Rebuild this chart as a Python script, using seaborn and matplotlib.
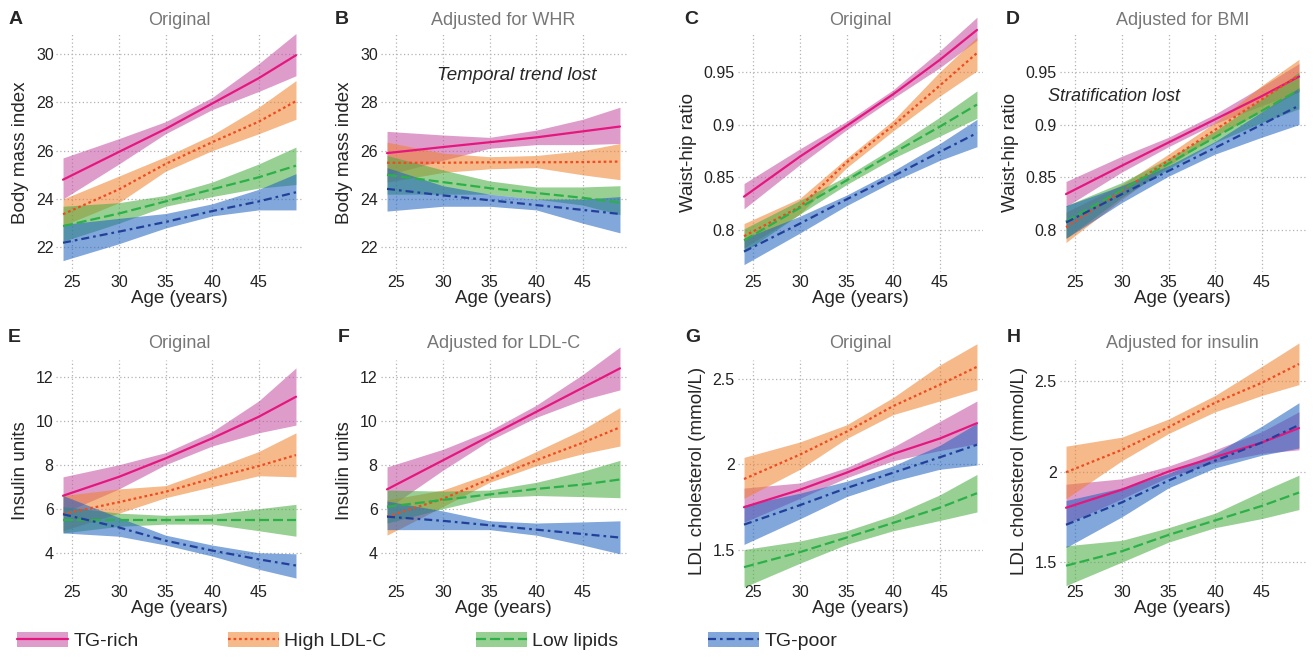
import numpy as np
import pandas as pd
import matplotlib
matplotlib.use("Agg")
import matplotlib.pyplot as plt
from matplotlib.patches import Patch
from matplotlib.lines import Line2D
from matplotlib.legend_handler import HandlerTuple
import seaborn as sns

# ---- data ----
AGES = [24, 30, 35, 40, 45, 49]
GROUPS = ["TG-rich", "High LDL-C", "Low lipids", "TG-poor"]

# A: body mass index, original
A_MID = {"TG-rich": [24.8, 25.95, 26.9, 27.95, 29.0, 29.95], "High LDL-C": [23.37, 24.4, 25.45, 26.35, 27.2, 28.05],
         "Low lipids": [22.88, 23.4, 23.9, 24.4, 24.9, 25.38], "TG-poor": [22.19, 22.65, 23.05, 23.5, 23.9, 24.28]}
A_LO = {"TG-rich": [24.0, 25.45, 26.7, 27.7, 28.45, 29.1], "High LDL-C": [22.9, 23.85, 25.15, 26.0, 26.7, 27.3],
        "Low lipids": [22.25, 23.0, 23.7, 24.1, 24.45, 24.6], "TG-poor": [21.45, 22.15, 22.8, 23.3, 23.55, 23.55]}
A_HI = {"TG-rich": [25.7, 26.5, 27.2, 28.2, 29.6, 30.85], "High LDL-C": [24.0, 24.95, 25.75, 26.65, 27.8, 28.9],
        "Low lipids": [23.7, 23.85, 24.15, 24.7, 25.45, 26.15], "TG-poor": [22.95, 23.2, 23.4, 23.8, 24.4, 25.05]}

# B: body mass index, adjusted for WHR
B_MID = {"TG-rich": [25.9, 26.15, 26.35, 26.55, 26.8, 27.0], "High LDL-C": [25.5, 25.5, 25.52, 25.52, 25.53, 25.55],
         "Low lipids": [25.0, 24.7, 24.45, 24.25, 24.05, 23.85], "TG-poor": [24.42, 24.15, 23.95, 23.75, 23.55, 23.38]}
B_LO = {"TG-rich": [25.0, 25.6, 26.1, 26.25, 26.25, 26.3], "High LDL-C": [24.7, 25.1, 25.25, 25.3, 25.0, 24.8],
        "Low lipids": [24.2, 24.2, 24.2, 24.0, 23.75, 23.35], "TG-poor": [23.5, 23.7, 23.7, 23.55, 23.0, 22.6]}
B_HI = {"TG-rich": [26.8, 26.65, 26.55, 26.85, 27.3, 27.8], "High LDL-C": [26.35, 25.9, 25.75, 25.8, 26.0, 26.3],
        "Low lipids": [25.8, 25.2, 24.75, 24.5, 24.5, 24.55], "TG-poor": [25.3, 24.55, 24.2, 24.0, 24.0, 24.1]}

# C: waist-hip ratio, original
C_MID = {"TG-rich": [0.8316, 0.8696, 0.8987, 0.9288, 0.9614, 0.9899], "High LDL-C": [0.794, 0.822, 0.864, 0.899, 0.937, 0.968],
         "Low lipids": [0.790, 0.821, 0.847, 0.873, 0.898, 0.919], "TG-poor": [0.7794, 0.806, 0.829, 0.851, 0.874, 0.892]}
C_LO = {"TG-rich": [0.820, 0.862, 0.895, 0.925, 0.954, 0.980], "High LDL-C": [0.783, 0.815, 0.859, 0.894, 0.927, 0.951],
        "Low lipids": [0.779, 0.815, 0.843, 0.868, 0.889, 0.906], "TG-poor": [0.767, 0.797, 0.823, 0.846, 0.866, 0.879]}
C_HI = {"TG-rich": [0.844, 0.877, 0.903, 0.933, 0.970, 1.002], "High LDL-C": [0.806, 0.830, 0.868, 0.904, 0.950, 0.983],
        "Low lipids": [0.801, 0.828, 0.851, 0.878, 0.907, 0.932], "TG-poor": [0.792, 0.813, 0.833, 0.856, 0.882, 0.905]}

# D: waist-hip ratio, adjusted for BMI
D_MID = {"TG-rich": [0.834, 0.861, 0.883, 0.905, 0.927, 0.9456], "High LDL-C": [0.8025, 0.837, 0.866, 0.895, 0.924, 0.947],
         "Low lipids": [0.808, 0.838, 0.863, 0.888, 0.913, 0.933], "TG-poor": [0.807, 0.834, 0.856, 0.878, 0.900, 0.918]}
D_LO = {"TG-rich": [0.822, 0.855, 0.879, 0.901, 0.918, 0.931], "High LDL-C": [0.788, 0.829, 0.861, 0.889, 0.912, 0.932],
        "Low lipids": [0.792, 0.831, 0.858, 0.883, 0.902, 0.915], "TG-poor": [0.792, 0.826, 0.851, 0.872, 0.888, 0.900]}
D_HI = {"TG-rich": [0.846, 0.870, 0.888, 0.910, 0.936, 0.958], "High LDL-C": [0.817, 0.843, 0.872, 0.902, 0.937, 0.962],
        "Low lipids": [0.823, 0.845, 0.868, 0.894, 0.924, 0.950], "TG-poor": [0.823, 0.842, 0.861, 0.884, 0.912, 0.935]}

# E: insulin, original
E_MID = {"TG-rich": [6.59, 7.45, 8.29, 9.2, 10.18, 11.09], "High LDL-C": [5.76, 6.3, 6.77, 7.38, 7.94, 8.44],
         "Low lipids": [5.48, 5.48, 5.48, 5.48, 5.48, 5.48], "TG-poor": [5.75, 5.15, 4.55, 4.1, 3.7, 3.42]}
E_LO = {"TG-rich": [5.8, 6.9, 8.0, 8.85, 9.45, 9.8], "High LDL-C": [5.0, 5.8, 6.5, 7.0, 7.5, 7.45],
        "Low lipids": [4.9, 5.2, 5.3, 5.3, 5.0, 4.75], "TG-poor": [4.9, 4.75, 4.35, 3.85, 3.25, 2.85]}
E_HI = {"TG-rich": [7.45, 8.0, 8.55, 9.5, 10.9, 12.4], "High LDL-C": [6.6, 6.9, 7.05, 7.8, 8.6, 9.45],
        "Low lipids": [6.1, 5.8, 5.7, 5.75, 6.0, 6.2], "TG-poor": [6.6, 5.6, 4.8, 4.35, 4.0, 3.95]}

# F: insulin, adjusted for LDL-C
F_MID = {"TG-rich": [6.88, 8.2, 9.3, 10.4, 11.5, 12.38], "High LDL-C": [5.64, 6.45, 7.35, 8.2, 9.0, 9.7],
         "Low lipids": [6.09, 6.4, 6.65, 6.9, 7.1, 7.33], "TG-poor": [5.64, 5.45, 5.25, 5.05, 4.85, 4.69]}
F_LO = {"TG-rich": [6.0, 7.75, 9.1, 10.15, 10.95, 11.4], "High LDL-C": [4.8, 6.1, 7.2, 7.95, 8.5, 8.85],
        "Low lipids": [5.35, 6.0, 6.5, 6.6, 6.55, 6.5], "TG-poor": [5.05, 5.05, 5.05, 4.8, 4.35, 3.95]}
F_HI = {"TG-rich": [7.9, 8.7, 9.55, 10.7, 12.1, 13.35], "High LDL-C": [6.4, 6.85, 7.6, 8.6, 9.6, 10.6],
        "Low lipids": [6.85, 6.8, 6.85, 7.2, 7.7, 8.2], "TG-poor": [6.35, 5.9, 5.45, 5.35, 5.4, 5.45]}

# G: LDL cholesterol, original
G_MID = {"TG-rich": [1.748, 1.85, 1.95, 2.06, 2.15, 2.24], "High LDL-C": [1.913, 2.056, 2.19, 2.34, 2.465, 2.57],
         "Low lipids": [1.397, 1.485, 1.57, 1.656, 1.745, 1.83], "TG-poor": [1.646, 1.76, 1.86, 1.95, 2.04, 2.114]}
G_LO = {"TG-rich": [1.66, 1.80, 1.92, 2.02, 2.08, 2.12], "High LDL-C": [1.80, 1.97, 2.15, 2.29, 2.37, 2.435],
        "Low lipids": [1.28, 1.42, 1.53, 1.61, 1.67, 1.72], "TG-poor": [1.53, 1.68, 1.81, 1.90, 1.97, 1.995]}
G_HI = {"TG-rich": [1.86, 1.89, 1.98, 2.10, 2.25, 2.37], "High LDL-C": [2.04, 2.13, 2.23, 2.39, 2.58, 2.705],
        "Low lipids": [1.50, 1.55, 1.61, 1.70, 1.82, 1.94], "TG-poor": [1.76, 1.83, 1.90, 1.99, 2.11, 2.24]}

# H: LDL cholesterol, adjusted for insulin
H_MID = {"TG-rich": [1.80, 1.90, 2.0, 2.08, 2.16, 2.24], "High LDL-C": [1.996, 2.12, 2.245, 2.38, 2.49, 2.594],
         "Low lipids": [1.48, 1.56, 1.65, 1.73, 1.81, 1.884], "TG-poor": [1.706, 1.83, 1.95, 2.06, 2.16, 2.257]}
H_LO = {"TG-rich": [1.71, 1.85, 1.97, 2.05, 2.10, 2.12], "High LDL-C": [1.85, 2.06, 2.21, 2.33, 2.42, 2.48],
        "Low lipids": [1.37, 1.50, 1.61, 1.69, 1.74, 1.79], "TG-poor": [1.58, 1.75, 1.91, 2.02, 2.09, 2.13]}
H_HI = {"TG-rich": [1.93, 1.96, 2.03, 2.12, 2.22, 2.33], "High LDL-C": [2.14, 2.19, 2.29, 2.42, 2.58, 2.71],
        "Low lipids": [1.59, 1.62, 1.69, 1.77, 1.89, 1.98], "TG-poor": [1.84, 1.91, 1.99, 2.10, 2.25, 2.38]}

X_TICKS = [25, 30, 35, 40, 45]
BMI_TICKS = [22, 24, 26, 28, 30]
WHR_TICKS = [0.8, 0.85, 0.9, 0.95]
INS_TICKS = [4, 6, 8, 10, 12]
LDL_TICKS = [1.5, 2, 2.5]

# ---- style ----
LINE_COLORS = {"TG-rich": "#E5177E", "High LDL-C": "#F04A20", "Low lipids": "#2DB04A", "TG-poor": "#22409A"}
FILL_COLORS = {"TG-rich": "#C54FA3", "High LDL-C": "#EE822F", "Low lipids": "#48AC3F", "TG-poor": "#1F62C0"}
DASHES = {"TG-rich": "", "High LDL-C": (1.2, 1.3), "Low lipids": (4.5, 1.8), "TG-poor": (3.6, 1.8, 1.2, 1.8)}
FILL_ALPHA = 0.56

sns.set_theme(style="white")
plt.rcParams["font.family"] = ["Liberation Sans", "DejaVu Sans"]

W, H = 1315, 657
fig = plt.figure(figsize=(W / 100, H / 100), dpi=100)


def add_axes(left, top, bottom, width=246):
    return fig.add_axes([left / W, 1 - bottom / H, width / W, (bottom - top) / H])


def draw_panel(ax, mid, lo, hi, title, ylabel, yticks, ylim, ytlabels=None, title_pad=6):
    rows = []
    for g in GROUPS:
        for a, m, l, h in zip(AGES, mid[g], lo[g], hi[g]):
            rows.append({"age": a, "group": g, "mid": m, "lo": l, "hi": h})
    df = pd.DataFrame(rows)
    for g in GROUPS:
        sub = df[df.group == g]
        ax.fill_between(sub.age, sub.lo, sub.hi, color=FILL_COLORS[g], alpha=FILL_ALPHA,
                        linewidth=0, clip_on=False, zorder=2)
    sns.lineplot(data=df, x="age", y="mid", hue="group", style="group", hue_order=GROUPS,
                 style_order=GROUPS, palette=LINE_COLORS, dashes=DASHES, linewidth=1.6,
                 legend=False, ax=ax, clip_on=False, zorder=3)
    ax.set_xlim(23.3, 49.7)
    ax.set_ylim(*ylim)
    ax.set_xticks(X_TICKS)
    ax.set_yticks(yticks)
    if ytlabels is not None:
        ax.set_yticklabels(ytlabels)
    ax.grid(True, color="#b3b3b3", linestyle=(0, (1, 2)), linewidth=0.9)
    ax.set_axisbelow(True)
    for s in ax.spines.values():
        s.set_visible(False)
    ax.tick_params(length=0, pad=2, labelsize=11.5, colors="#222222")
    ax.set_xlabel("Age (years)", fontsize=13.5, labelpad=0.5)
    ax.set_ylabel(ylabel, fontsize=13.5, labelpad=5)
    ax.set_title(title, fontsize=13, color="#777777", pad=title_pad)


LEFTS = [56.5, 380.5, 737.5, 1059.5]
R1 = (33, 272)
R2 = (360, 582)

axA = add_axes(LEFTS[0], *R1)
draw_panel(axA, A_MID, A_LO, A_HI, "Original", "Body mass index", BMI_TICKS, (20.98, 30.87))
axB = add_axes(LEFTS[1], *R1)
draw_panel(axB, B_MID, B_LO, B_HI, "Adjusted for WHR", "Body mass index", BMI_TICKS, (20.98, 30.87))
axB.text(37.9, 29.1, "Temporal trend lost", style="italic", fontsize=13.5, ha="center", va="center")

whr_labels = ["0.8", "0.85", "0.9", "0.95"]
axC = add_axes(LEFTS[2], *R1)
draw_panel(axC, C_MID, C_LO, C_HI, "Original", "Waist-hip ratio", WHR_TICKS, (0.760, 0.987), whr_labels)
axD = add_axes(LEFTS[3], *R1)
draw_panel(axD, D_MID, D_LO, D_HI, "Adjusted for BMI", "Waist-hip ratio", WHR_TICKS, (0.760, 0.987), whr_labels)
axD.text(22.1, 0.927, "Stratification lost", style="italic", fontsize=13, ha="left", va="center")

axE = add_axes(LEFTS[0], *R2)
draw_panel(axE, E_MID, E_LO, E_HI, "Original", "Insulin units", INS_TICKS, (2.67, 12.76), title_pad=9)
axF = add_axes(LEFTS[1], *R2)
draw_panel(axF, F_MID, F_LO, F_HI, "Adjusted for LDL-C", "Insulin units", INS_TICKS, (2.67, 12.76), title_pad=9)

ldl_labels = ["1.5", "2", "2.5"]
axG = add_axes(LEFTS[2], *R2)
draw_panel(axG, G_MID, G_LO, G_HI, "Original", "LDL cholesterol (mmol/L)", LDL_TICKS, (1.31, 2.61), ldl_labels, title_pad=9)
axH = add_axes(LEFTS[3], *R2)
draw_panel(axH, H_MID, H_LO, H_HI, "Adjusted for insulin", "LDL cholesterol (mmol/L)", LDL_TICKS, (1.39, 2.616), ldl_labels, title_pad=9)

# panel letters
for letter, x, y in [("A", 9, 20), ("B", 335, 20), ("C", 684, 20), ("D", 1006, 20),
                     ("E", 8, 338), ("F", 338, 338), ("G", 685, 338), ("H", 1007, 338)]:
    fig.text(x / W, 1 - y / H, letter, fontsize=14, fontweight="bold", ha="left", va="center")

# legend: shaded patch with the line drawn across it
handles = []
for g in GROUPS:
    p = Patch(facecolor=FILL_COLORS[g], alpha=FILL_ALPHA, edgecolor="none")
    if DASHES[g]:
        ln = Line2D([], [], color=LINE_COLORS[g], linewidth=1.6, dashes=DASHES[g])
    else:
        ln = Line2D([], [], color=LINE_COLORS[g], linewidth=1.6, linestyle="-")
    handles.append((p, ln))
fig.legend(handles, GROUPS, handler_map={tuple: HandlerTuple(ndivide=1, pad=0)},
           loc="center left", bbox_to_anchor=(17 / W, 1 - 641 / H), ncol=4, frameon=False,
           fontsize=14, handlelength=2.6, handleheight=0.85, handletextpad=0.3,
           columnspacing=4.6, borderpad=0, borderaxespad=0)

fig.savefig("out.png", dpi=100)
